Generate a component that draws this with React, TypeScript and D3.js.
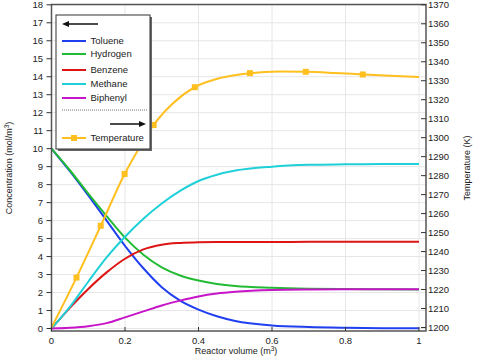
import * as d3 from 'd3';

// reactor volume grid (m^3)
const volume = [0, 0.05, 0.1, 0.15, 0.2, 0.25, 0.3, 0.35, 0.4, 0.45, 0.5, 0.6, 0.7, 0.8, 0.9, 1.0];

// concentrations (mol/m^3)
const toluene = [10, 8.75, 7.4, 6.0, 4.6, 3.35, 2.3, 1.55, 1.05, 0.68, 0.42, 0.17, 0.08, 0.04, 0.02, 0.01];
const hydrogen = [10, 8.8, 7.5, 6.25, 5.05, 4.1, 3.4, 2.95, 2.67, 2.48, 2.36, 2.26, 2.21, 2.19, 2.18, 2.17];
const benzene = [0, 1.15, 2.2, 3.12, 3.88, 4.4, 4.66, 4.76, 4.8, 4.81, 4.81, 4.81, 4.82, 4.82, 4.82, 4.82];
const methane = [0, 1.2, 2.6, 3.95, 5.1, 6.1, 6.95, 7.65, 8.2, 8.55, 8.78, 9.0, 9.1, 9.13, 9.15, 9.15];
const biphenyl = [0, 0.04, 0.13, 0.3, 0.62, 0.95, 1.28, 1.55, 1.78, 1.94, 2.04, 2.14, 2.17, 2.18, 2.18, 2.18];

// temperature (K)
const tempVolume = [0, 0.068, 0.134, 0.199, 0.24, 0.278, 0.33, 0.39, 0.46, 0.54, 0.62, 0.692, 0.77, 0.847, 0.92, 1.0];
const temperature = [1200, 1226.3, 1253.6, 1280.9, 1295, 1306.7, 1318, 1326.6, 1331.5, 1334.0, 1334.8, 1334.7, 1334.1, 1333.3, 1332.6, 1331.9];
const tempMarkers = [1, 2, 3, 5, 7, 9, 11, 13];

const xTicks = [0, 0.2, 0.4, 0.6, 0.8, 1];
const concTicks = d3.range(0, 19, 1);
const tempTicks = d3.range(1200, 1371, 10);

const seriesNames = ['Toluene', 'Hydrogen', 'Benzene', 'Methane', 'Biphenyl'];
const seriesColors = ['#2040f0', '#22bb33', '#dd1515', '#20d0d8', '#c814c8'];
const seriesValues = [toluene, hydrogen, benzene, methane, biphenyl];
const tempColor = '#ffbf1f';

const font = '"Liberation Sans", Arial, sans-serif';

export default function App() {
  const left = 51.5;
  const right = 426;
  const top = 4.5;
  const bottom = 331;

  const x = d3.scaleLinear().domain([0, 1]).range([51.5, 419]);
  const yL = d3.scaleLinear().domain([0, 18]).range([328.5, 4.8]);
  const yR = d3.scaleLinear().domain([1200, 1370]).range([327.5, 4.8]);

  const concLine = (vals: number[]) =>
    d3
      .line<number>()
      .x((d, i) => x(volume[i]))
      .y(d => yL(d))
      .curve(d3.curveMonotoneX)(vals) || '';

  const tempLine =
    d3
      .line<number>()
      .x((d, i) => x(tempVolume[i]))
      .y(d => yR(d))
      .curve(d3.curveMonotoneX)(temperature) || '';

  const legendRows = [41, 54, 70, 84, 98];

  return (
    <svg width={480} height={363} style={{ position: 'absolute', left: 0, top: 0, background: '#fff' }} fontFamily={font}>
      <defs>
        <clipPath id="plot">
          <rect x={left} y={top} width={right - left} height={bottom - top} />
        </clipPath>
      </defs>

      {/* grid */}
      <g stroke="#e6e6e6" strokeWidth={1}>
        {concTicks.map(t => (
          <line key={'h' + t} x1={left} x2={right} y1={yL(t)} y2={yL(t)} />
        ))}
        {xTicks.map(t => (
          <line key={'v' + t} x1={x(t)} x2={x(t)} y1={top} y2={bottom} />
        ))}
      </g>

      {/* curves */}
      <g clipPath="url(#plot)" fill="none" strokeWidth={2}>
        {seriesValues.map((vals, i) => (
          <path key={seriesNames[i]} d={concLine(vals)} stroke={seriesColors[i]} />
        ))}
        <path d={tempLine} stroke={tempColor} />
        {tempMarkers.map(i => (
          <rect
            key={'m' + i}
            x={x(tempVolume[i]) - 3}
            y={yR(temperature[i]) - 3}
            width={6}
            height={6}
            fill={tempColor}
            stroke="none"
          />
        ))}
      </g>

      {/* frame */}
      <rect x={left} y={top} width={right - left} height={bottom - top} fill="none" stroke="#555" strokeWidth={1.5} />

      {/* axes */}
      <g fontSize={9.5} fill="#222">
        {concTicks.map(t => (
          <g key={'lt' + t}>
            <line x1={left - 5} x2={left} y1={yL(t)} y2={yL(t)} stroke="#333" strokeWidth={1} />
            <text x={43} y={yL(t)} dy="0.35em" textAnchor="end">
              {t}
            </text>
          </g>
        ))}
        {tempTicks.map(t => (
          <g key={'rt' + t}>
            <line x1={right - 5} x2={right} y1={yR(t)} y2={yR(t)} stroke="#333" strokeWidth={1} />
            <text x={428} y={yR(t)} dy="0.35em" textAnchor="start">
              {t}
            </text>
          </g>
        ))}
        {xTicks.map(t => (
          <g key={'xt' + t}>
            <line x1={x(t)} x2={x(t)} y1={bottom - 4} y2={bottom} stroke="#333" strokeWidth={1} />
            <text x={x(t)} y={344} textAnchor="middle">
              {t}
            </text>
          </g>
        ))}
      </g>

      {/* axis titles */}
      <g fontSize={9} fill="#222">
        <text x={236} y={354} textAnchor="middle">
          Reactor volume (m<tspan dy={-3} fontSize={6.5}>3</tspan>
          <tspan dy={3}>)</tspan>
        </text>
        <text transform="translate(12,168) rotate(-90)" textAnchor="middle">
          Concentration (mol/m<tspan dy={-3} fontSize={6.5}>3</tspan>
          <tspan dy={3}>)</tspan>
        </text>
        <text transform="translate(470,168) rotate(-90)" textAnchor="middle">
          Temperature (K)
        </text>
      </g>

      {/* legend */}
      <g>
        <rect x={58} y={17} width={94} height={134} fill="#666" />
        <rect x={56} y={15} width={94} height={134} fill="#fff" stroke="#333" strokeWidth={1} />
        <line x1={68} x2={98} y1={24} y2={24} stroke="#111" strokeWidth={1.5} />
        <path d="M62,24 L69,21 L69,27 Z" fill="#111" />
        {seriesNames.map((name, i) => (
          <g key={'lg' + name}>
            <line x1={62} x2={86} y1={legendRows[i]} y2={legendRows[i]} stroke={seriesColors[i]} strokeWidth={2} />
            <text x={90.5} y={legendRows[i]} dy="0.35em" fontSize={9.5} fill="#222">
              {name}
            </text>
          </g>
        ))}
        <line x1={62} x2={147} y1={110} y2={110} stroke="#777" strokeWidth={1} strokeDasharray="1,1" />
        <line x1={110} x2={140} y1={124} y2={124} stroke="#111" strokeWidth={1.5} />
        <path d="M146,124 L139,121 L139,127 Z" fill="#111" />
        <line x1={62} x2={86} y1={138} y2={138} stroke={tempColor} strokeWidth={2} />
        <rect x={71} y={135} width={6} height={6} fill={tempColor} />
        <text x={90.5} y={138} dy="0.35em" fontSize={9.5} fill="#222">
          Temperature
        </text>
      </g>
    </svg>
  );
}
